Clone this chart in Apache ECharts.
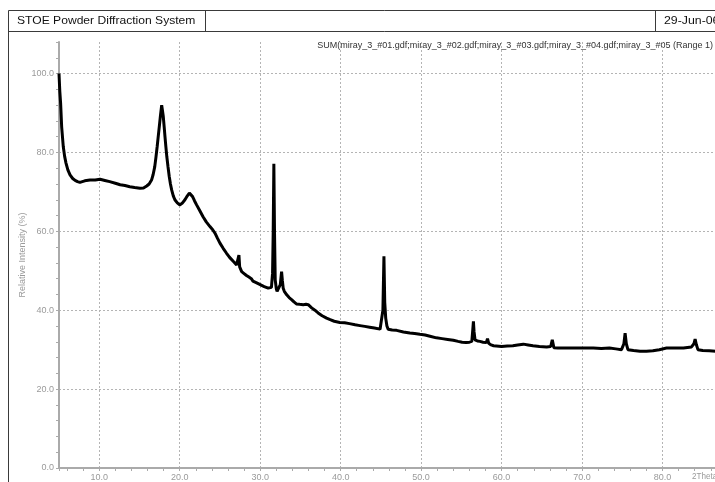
<!DOCTYPE html>
<html>
<head>
<meta charset="utf-8">
<script src="https://cdn.jsdelivr.net/npm/echarts@6/dist/echarts.min.js"></script>
<style>
  html, body { margin: 0; padding: 0; overflow: hidden; background: #fff; }
  #chart { width: 760px; height: 482px; }
</style>
</head>
<body>
<div id="chart"></div>
<script>
// Diffraction scan: 2Theta (deg) against relative intensity (%)
const twoTheta = [
  5.0, 5.1, 5.2, 5.33, 5.53, 5.7, 5.87, 6.1, 6.37, 6.7, 7.0, 7.3, 7.6, 8.2, 8.85, 9.5,
  10.1, 10.7, 11.3, 12.0, 12.6, 13.2, 13.8, 14.4, 15.06, 15.5, 15.9, 16.2, 16.5, 16.7, 16.9,
  17.05, 17.2, 17.33, 17.46, 17.6, 17.76, 17.86, 17.96, 18.07, 18.17, 18.28, 18.4, 18.55,
  18.7, 18.85, 19.0, 19.2, 19.4, 19.7, 20.0, 20.3, 20.65, 20.95, 21.2, 21.4, 21.6, 21.85,
  22.1, 22.5, 22.9, 23.3, 23.76, 24.1, 24.4, 24.7, 25.0, 25.4, 25.8, 26.2, 26.65, 27.07,
  27.25, 27.36, 27.45, 27.7, 28.0, 28.3, 28.6, 28.9, 29.1, 29.5, 30.0, 30.5, 31.0, 31.4,
  31.54, 31.62, 31.7, 31.78, 31.87, 32.0, 32.1, 32.3, 32.5, 32.66, 32.76, 32.86, 33.0,
  33.3, 33.6, 33.9, 34.2, 34.5, 34.9, 35.35, 35.7, 35.97, 36.2, 36.4, 36.8, 37.2, 37.7,
  38.25, 38.7, 39.2, 39.9, 40.5, 41.1, 41.8, 42.4, 43.0, 43.6, 44.2, 44.9, 45.1, 45.25,
  45.38, 45.48, 45.6, 45.75, 45.9, 46.4, 46.95, 47.8, 48.6, 49.2, 49.84, 50.5, 51.1, 51.9,
  52.6, 53.3, 54.0, 54.6, 55.1, 55.6, 56.0, 56.3, 56.42, 56.5, 56.58, 56.7, 57.0, 57.3,
  57.7, 58.1, 58.25, 58.4, 58.7, 59.0, 60.0, 60.7, 61.4, 62.0, 62.7, 63.3, 63.9, 64.7,
  65.6, 66.1, 66.3, 66.5, 67.0, 67.7, 68.5, 69.3, 70.4, 71.4, 72.4, 73.4, 74.2, 74.9,
  75.2, 75.35, 75.5, 75.7, 76.4, 77.2, 78.0, 78.8, 79.6, 80.5, 81.5, 82.6, 83.6, 83.9,
  84.05, 84.2, 84.4, 85.0, 85.8, 86.6
];
const intensity = [
  100.0, 95.5, 92.5, 86.5, 81.5, 79.0, 77.3, 75.6, 74.3, 73.4, 72.9, 72.6, 72.4, 72.8, 73.0, 73.0,
  73.2, 72.9, 72.6, 72.2, 71.8, 71.6, 71.3, 71.1, 70.9, 71.0, 71.5, 72.0, 73.0, 74.4, 76.4,
  78.8, 81.5, 84.0, 86.5, 89.2, 92.0, 90.6, 89.1, 86.5, 84.0, 81.5, 78.9, 76.3,
  73.9, 72.0, 70.5, 69.0, 68.0, 67.2, 66.7, 67.1, 68.0, 69.0, 69.7, 69.4, 68.8, 67.7,
  66.7, 65.2, 63.7, 62.4, 61.2, 60.4, 59.5, 58.2, 57.0, 55.7, 54.5, 53.4, 52.4, 51.5,
  51.0, 54.0, 51.0, 49.8, 49.3, 48.8, 48.4, 48.0, 47.4, 47.0, 46.5, 46.0, 45.6, 45.8,
  49.4, 60.0, 77.1, 60.0, 47.7, 45.5, 44.8, 44.8, 46.5, 49.8, 47.5, 45.6, 44.8,
  43.9, 43.2, 42.7, 42.1, 41.6, 41.5, 41.4, 41.5, 41.4, 41.0, 40.6, 40.0, 39.3, 38.6,
  38.0, 37.6, 37.2, 36.9, 36.8, 36.6, 36.3, 36.1, 35.9, 35.7, 35.5, 35.2, 35.6, 40.0,
  53.7, 42.0, 38.0, 36.0, 35.2, 35.0, 34.9, 34.5, 34.2, 34.1, 33.9, 33.7, 33.4, 33.0,
  32.8, 32.6, 32.4, 32.1, 31.9, 31.8, 31.9, 32.1, 35.0, 37.2, 34.5, 32.5, 32.2, 32.1,
  31.9, 31.8, 32.8, 31.6, 31.2, 31.0, 30.8, 30.9, 31.0, 31.2, 31.4, 31.2, 31.0, 30.8,
  30.7, 30.8, 32.5, 30.5, 30.4, 30.4, 30.4, 30.4, 30.4, 30.4, 30.3, 30.4, 30.2, 30.0,
  31.5, 34.2, 31.5, 30.0, 29.8, 29.6, 29.6, 29.7, 30.0, 30.4, 30.4, 30.4, 30.7, 31.5,
  32.7, 31.3, 30.0, 29.8, 29.7, 29.6
];

const headerTitle = 'STOE Powder Diffraction System';
const headerDate = '29-Jun-06';
const scanName = 'SUM(miray_3_#01.gdf;miray_3_#02.gdf;miray_3_#03.gdf;miray_3_#04.gdf;miray_3_#05 (Range 1)';
const xAxisTitle = '2Theta';
const yAxisTitle = 'Relative Intensity (%)';

const FONT = "'Liberation Sans', Arial, sans-serif";
const FRAME = '#3a3a3a';
const AXIS_GREY = '#aaaaaa';
const LABEL_GREY = '#9a9a9a';
const GRID_GREY = '#b4b4b4';

const points = twoTheta.map((t, i) => [t, intensity[i]]);

const chart = echarts.init(document.getElementById('chart'), null, { renderer: 'canvas' });

chart.setOption({
  animation: false,
  backgroundColor: '#ffffff',
  grid: { left: 59, top: 42, right: 17, bottom: 13 },
  xAxis: {
    type: 'value',
    min: 5,
    max: 90,
    minInterval: 10,
    maxInterval: 10,
    axisLine: { show: true, lineStyle: { color: AXIS_GREY, width: 2 } },
    axisTick: { show: true, length: 3, lineStyle: { color: AXIS_GREY } },
    minorTick: { show: true, splitNumber: 5, length: 3, lineStyle: { color: AXIS_GREY } },
    axisLabel: {
      showMinLabel: false,
      margin: 5,
      color: LABEL_GREY,
      fontFamily: FONT,
      fontSize: 9,
      formatter: v => v.toFixed(1)
    },
    splitLine: { show: true, lineStyle: { color: GRID_GREY, type: [2, 2], width: 1 } }
  },
  yAxis: {
    type: 'value',
    min: 0,
    max: 108,
    interval: 20,
    axisLine: { show: true, lineStyle: { color: AXIS_GREY, width: 2 } },
    axisTick: { show: true, length: 3, lineStyle: { color: AXIS_GREY } },
    minorTick: { show: true, splitNumber: 5, length: 3, lineStyle: { color: AXIS_GREY } },
    axisLabel: {
      showMaxLabel: false,
      margin: 5,
      color: LABEL_GREY,
      fontFamily: FONT,
      fontSize: 9,
      formatter: v => v.toFixed(1)
    },
    splitLine: {
      show: true,
      lineStyle: {
        color: [GRID_GREY, GRID_GREY, GRID_GREY, GRID_GREY, GRID_GREY, GRID_GREY, 'rgba(0,0,0,0)'],
        type: [2, 2],
        width: 1
      }
    }
  },
  graphic: [
    { type: 'line', shape: { x1: 8.5, y1: 10.5, x2: 8.5, y2: 482 }, style: { stroke: FRAME, lineWidth: 1 } },
    { type: 'line', shape: { x1: 8.5, y1: 10.5, x2: 760, y2: 10.5 }, style: { stroke: FRAME, lineWidth: 1 } },
    { type: 'line', shape: { x1: 8.5, y1: 31.5, x2: 760, y2: 31.5 }, style: { stroke: FRAME, lineWidth: 1 } },
    { type: 'line', shape: { x1: 205.5, y1: 10.5, x2: 205.5, y2: 31.5 }, style: { stroke: FRAME, lineWidth: 1 } },
    { type: 'line', shape: { x1: 655.5, y1: 10.5, x2: 655.5, y2: 31.5 }, style: { stroke: FRAME, lineWidth: 1 } },
    { type: 'text', x: 17, y: 21, scaleX: 1.1, style: { text: headerTitle, fill: '#111', font: '11px ' + FONT, textVerticalAlign: 'middle' } },
    { type: 'text', x: 664, y: 21, scaleX: 1.12, style: { text: headerDate, fill: '#111', font: '11px ' + FONT, textVerticalAlign: 'middle' } },
    { type: 'text', x: 713, y: 46, style: { text: scanName, fill: '#333', font: '9px ' + FONT, textAlign: 'right', textVerticalAlign: 'middle' } },
    { type: 'text', x: 692, y: 477, scaleX: 0.9, style: { text: xAxisTitle, fill: LABEL_GREY, font: '9px ' + FONT, textVerticalAlign: 'middle' } },
    { type: 'text', x: 23, y: 255, rotation: Math.PI / 2, style: { text: yAxisTitle, fill: LABEL_GREY, font: '9px ' + FONT, textAlign: 'center', textVerticalAlign: 'middle' } }
  ],
  series: [{
    type: 'line',
    data: points,
    showSymbol: false,
    symbol: 'none',
    smooth: false,
    lineStyle: { color: '#000000', width: 3 },
    z: 5
  }]
});
</script>
</body>
</html>
